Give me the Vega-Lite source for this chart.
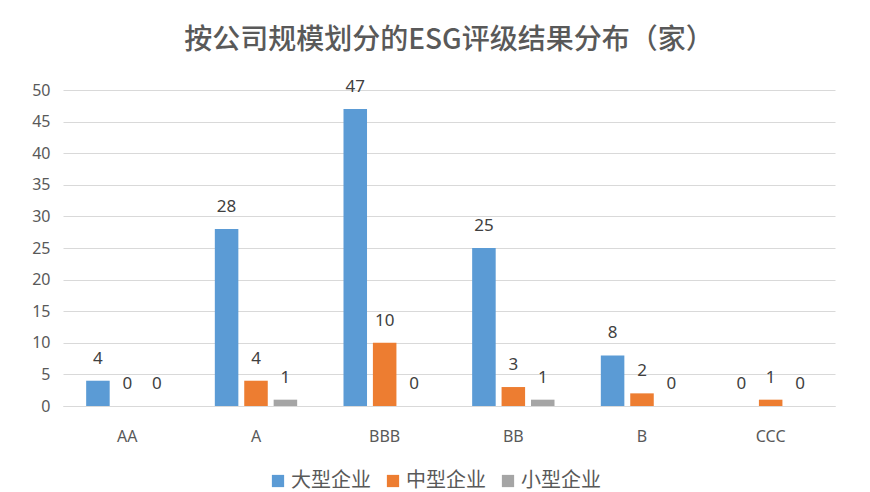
{
  "$schema": "https://vega.github.io/schema/vega-lite/v6.json",
  "autosize": {"type": "none"},
  "width": 772,
  "height": 316,
  "padding": {"left": 63, "top": 90, "right": 35, "bottom": 86},
  "background": "white",
  "title": {
    "text": "按公司规模划分的ESG评级结果分布（家）",
    "font": "Noto Sans CJK SC",
    "fontSize": 28,
    "fontWeight": 500,
    "color": "#595959",
    "anchor": "middle",
    "frame": "group",
    "offset": 23
  },
  "data": {
    "values": [
      {"rating": "AA", "size": "大型企业", "count": 4},
      {"rating": "AA", "size": "中型企业", "count": 0},
      {"rating": "AA", "size": "小型企业", "count": 0},
      {"rating": "A", "size": "大型企业", "count": 28},
      {"rating": "A", "size": "中型企业", "count": 4},
      {"rating": "A", "size": "小型企业", "count": 1},
      {"rating": "BBB", "size": "大型企业", "count": 47},
      {"rating": "BBB", "size": "中型企业", "count": 10},
      {"rating": "BBB", "size": "小型企业", "count": 0},
      {"rating": "BB", "size": "大型企业", "count": 25},
      {"rating": "BB", "size": "中型企业", "count": 3},
      {"rating": "BB", "size": "小型企业", "count": 1},
      {"rating": "B", "size": "大型企业", "count": 8},
      {"rating": "B", "size": "中型企业", "count": 2},
      {"rating": "B", "size": "小型企业", "count": 0},
      {"rating": "CCC", "size": "大型企业", "count": 0},
      {"rating": "CCC", "size": "中型企业", "count": 1},
      {"rating": "CCC", "size": "小型企业", "count": 0}
    ]
  },
  "encoding": {
    "x": {
      "field": "rating",
      "type": "nominal",
      "sort": ["AA", "A", "BBB", "BB", "B", "CCC"],
      "scale": {"paddingInner": 0.36, "paddingOuter": 0.18},
      "axis": {
        "title": null,
        "labelAngle": 0,
        "labelFont": "Noto Sans",
        "labelFontSize": 16,
        "labelColor": "#595959",
        "labelPadding": 22,
        "ticks": false,
        "domainColor": "#d9d9d9",
        "domainWidth": 1
      }
    },
    "xOffset": {
      "field": "size",
      "type": "nominal",
      "sort": ["大型企业", "中型企业", "小型企业"],
      "scale": {"paddingInner": 0.2, "paddingOuter": 0}
    },
    "y": {
      "field": "count",
      "type": "quantitative",
      "scale": {"domain": [0, 50], "nice": false},
      "axis": {
        "title": null,
        "values": [0, 5, 10, 15, 20, 25, 30, 35, 40, 45, 50],
        "labelFont": "Noto Sans",
        "labelFontSize": 16,
        "labelColor": "#595959",
        "labelPadding": 13,
        "ticks": false,
        "domain": false,
        "gridColor": "#d9d9d9",
        "gridWidth": 1
      }
    }
  },
  "layer": [
    {
      "mark": {"type": "bar"},
      "encoding": {
        "color": {
          "field": "size",
          "type": "nominal",
          "sort": ["大型企业", "中型企业", "小型企业"],
          "scale": {
            "domain": ["大型企业", "中型企业", "小型企业"],
            "range": ["#5B9BD5", "#ED7D31", "#A5A5A5"]
          },
          "legend": {
            "title": null,
            "orient": "none",
            "direction": "horizontal",
            "legendX": 205,
            "legendY": 381,
            "symbolType": "square",
            "symbolSize": 150,
            "symbolStrokeWidth": 0,
            "labelFont": "Noto Sans CJK SC",
            "labelFontSize": 20,
            "labelColor": "#595959",
            "columnPadding": 12,
            "labelOffset": 3
          }
        }
      }
    },
    {
      "mark": {
        "type": "text",
        "baseline": "bottom",
        "dy": -13,
        "font": "Noto Sans",
        "fontSize": 17,
        "color": "#404040"
      },
      "encoding": {
        "text": {"field": "count", "type": "quantitative"}
      }
    }
  ],
  "config": {"view": {"stroke": null}}
}
